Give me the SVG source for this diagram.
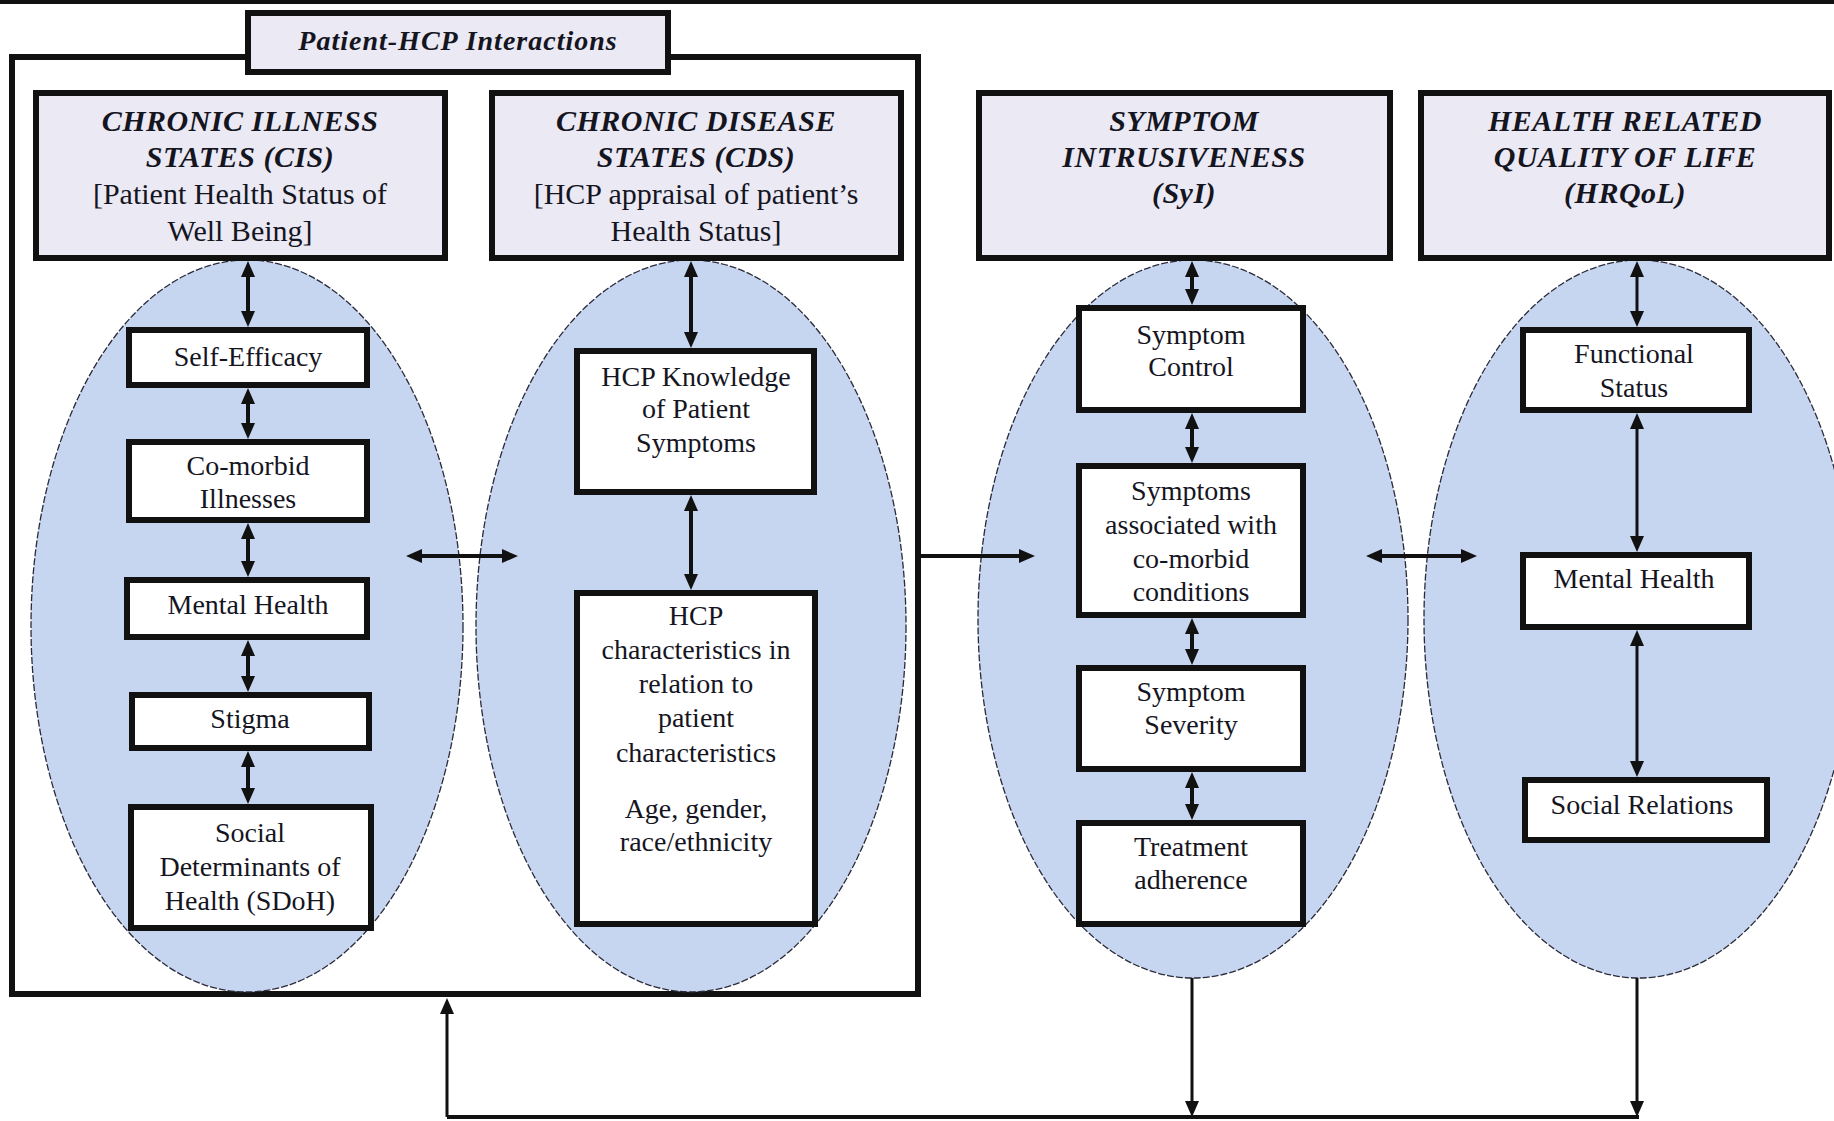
<svg xmlns="http://www.w3.org/2000/svg" width="1834" height="1121" viewBox="0 0 1834 1121">
<style>
text{font-family:"Liberation Serif","Times New Roman",serif;fill:#15151f;text-anchor:middle}
.hdr{font-size:30px;font-weight:bold;font-style:italic;letter-spacing:0.5px}
.hsub{font-size:30px}
.lbl{font-size:28px}
.ttl{font-size:28px;font-weight:bold;font-style:italic;letter-spacing:1px}
.hbox{fill:#eae9f4;stroke:#111;stroke-width:6}
.ibox{fill:#ffffff;stroke:#111;stroke-width:6}
.ell{fill:#c7d6f0;stroke:#2a2a3a;stroke-width:1.3;stroke-dasharray:7 2}
.c{fill:none;stroke:#111;stroke-width:4}
.c3{fill:none;stroke:#111;stroke-width:3}
</style>
<defs>
<marker id="ah" markerUnits="userSpaceOnUse" markerWidth="16" markerHeight="14" refX="11" refY="7" orient="auto-start-reverse">
<path d="M0,0 L16,7 L0,14 z" fill="#111"/>
</marker>
</defs>
<rect x="0" y="0" width="1834" height="1121" fill="#ffffff"/>
<rect x="0" y="0" width="1834" height="4" fill="#111"/>

<g id="outer-frame">
<rect x="12" y="57" width="906" height="937" fill="none" stroke="#111" stroke-width="6"/>
</g>

<g id="ellipses">
<ellipse id="ell-cis" class="ell" cx="247" cy="626" rx="216" ry="366"/>
<ellipse id="ell-cds" class="ell" cx="691" cy="626" rx="215" ry="366"/>
<ellipse id="ell-syi" class="ell" cx="1193" cy="619" rx="215" ry="359"/>
<ellipse id="ell-hrqol" class="ell" cx="1639" cy="619" rx="215" ry="359"/>
</g>

<g id="connectors">
<path class="c" d="M248,266 V322" marker-start="url(#ah)" marker-end="url(#ah)"/>
<path class="c" d="M248,393 V434" marker-start="url(#ah)" marker-end="url(#ah)"/>
<path class="c" d="M248,528 V572" marker-start="url(#ah)" marker-end="url(#ah)"/>
<path class="c" d="M248,645 V687" marker-start="url(#ah)" marker-end="url(#ah)"/>
<path class="c" d="M248,756 V799" marker-start="url(#ah)" marker-end="url(#ah)"/>
<path class="c" d="M691,266 V343" marker-start="url(#ah)" marker-end="url(#ah)"/>
<path class="c" d="M691,500 V585" marker-start="url(#ah)" marker-end="url(#ah)"/>
<path class="c" d="M1192,266 V300" marker-start="url(#ah)" marker-end="url(#ah)"/>
<path class="c" d="M1192,418 V458" marker-start="url(#ah)" marker-end="url(#ah)"/>
<path class="c" d="M1192,623 V660" marker-start="url(#ah)" marker-end="url(#ah)"/>
<path class="c" d="M1192,777 V815" marker-start="url(#ah)" marker-end="url(#ah)"/>
<path class="c3" d="M1637,266 V322" marker-start="url(#ah)" marker-end="url(#ah)"/>
<path class="c3" d="M1637,418 V547" marker-start="url(#ah)" marker-end="url(#ah)"/>
<path class="c3" d="M1637,635 V772" marker-start="url(#ah)" marker-end="url(#ah)"/>
<path class="c" d="M411,556 H513" marker-start="url(#ah)" marker-end="url(#ah)"/>
<path class="c" d="M921,556 H1030" marker-end="url(#ah)"/>
<path class="c" d="M1371,556 H1472" marker-start="url(#ah)" marker-end="url(#ah)"/>
<path class="c3" d="M1192,978 V1112" marker-end="url(#ah)"/>
<path class="c3" d="M1637,978 V1112" marker-end="url(#ah)"/>
<path class="c" d="M447,1117 H1639"/>
<path class="c3" d="M447,1117 V1003" marker-end="url(#ah)"/>
</g>

<g id="patient-hcp">
<rect class="hbox" x="248" y="13" width="420" height="59"/>
<text class="ttl" x="458" y="50">Patient-HCP Interactions</text>
</g>

<g id="cis">
<rect class="hbox" x="36" y="93" width="409" height="165"/>
<text class="hdr" x="240" y="131">CHRONIC ILLNESS</text>
<text class="hdr" x="240" y="167">STATES (CIS)</text>
<text class="hsub" x="240" y="204">[Patient Health Status of</text>
<text class="hsub" x="240" y="241">Well Being]</text>
</g>

<g id="cds">
<rect class="hbox" x="492" y="93" width="409" height="165"/>
<text class="hdr" x="696" y="131">CHRONIC DISEASE</text>
<text class="hdr" x="696" y="167">STATES (CDS)</text>
<text class="hsub" x="696" y="204">[HCP appraisal of patient’s</text>
<text class="hsub" x="696" y="241">Health Status]</text>
</g>

<g id="syi">
<rect class="hbox" x="979" y="93" width="411" height="165"/>
<text class="hdr" x="1184" y="131">SYMPTOM</text>
<text class="hdr" x="1184" y="167">INTRUSIVENESS</text>
<text class="hdr" x="1184" y="203">(SyI)</text>
</g>

<g id="hrqol">
<rect class="hbox" x="1421" y="93" width="408" height="165"/>
<text class="hdr" x="1625" y="131">HEALTH RELATED</text>
<text class="hdr" x="1625" y="167">QUALITY OF LIFE</text>
<text class="hdr" x="1625" y="203">(HRQoL)</text>
</g>

<g id="self-efficacy">
<rect class="ibox" x="129" y="330" width="238" height="55"/>
<text class="lbl" x="248" y="366">Self-Efficacy</text>
</g>
<g id="comorbid-illnesses">
<rect class="ibox" x="129" y="442" width="238" height="78"/>
<text class="lbl" x="248" y="475">Co-morbid</text>
<text class="lbl" x="248" y="508">Illnesses</text>
</g>
<g id="mental-health-cis">
<rect class="ibox" x="127" y="580" width="240" height="57"/>
<text class="lbl" x="248" y="614">Mental Health</text>
</g>
<g id="stigma">
<rect class="ibox" x="132" y="695" width="237" height="53"/>
<text class="lbl" x="250" y="728">Stigma</text>
</g>
<g id="sdoh">
<rect class="ibox" x="131" y="807" width="240" height="121"/>
<text class="lbl" x="250" y="842">Social</text>
<text class="lbl" x="250" y="876">Determinants of</text>
<text class="lbl" x="250" y="910">Health (SDoH)</text>
</g>

<g id="hcp-knowledge">
<rect class="ibox" x="577" y="351" width="237" height="141"/>
<text class="lbl" x="696" y="386">HCP Knowledge</text>
<text class="lbl" x="696" y="418">of Patient</text>
<text class="lbl" x="696" y="452">Symptoms</text>
</g>
<g id="hcp-characteristics">
<rect class="ibox" x="577" y="593" width="238" height="331"/>
<text class="lbl" x="696" y="625">HCP</text>
<text class="lbl" x="696" y="659">characteristics in</text>
<text class="lbl" x="696" y="693">relation to</text>
<text class="lbl" x="696" y="727">patient</text>
<text class="lbl" x="696" y="762">characteristics</text>
<text class="lbl" x="696" y="818">Age, gender,</text>
<text class="lbl" x="696" y="851">race/ethnicity</text>
</g>

<g id="symptom-control">
<rect class="ibox" x="1079" y="308" width="224" height="102"/>
<text class="lbl" x="1191" y="344">Symptom</text>
<text class="lbl" x="1191" y="376">Control</text>
</g>
<g id="symptoms-comorbid">
<rect class="ibox" x="1079" y="466" width="224" height="149"/>
<text class="lbl" x="1191" y="500">Symptoms</text>
<text class="lbl" x="1191" y="534">associated with</text>
<text class="lbl" x="1191" y="568">co-morbid</text>
<text class="lbl" x="1191" y="601">conditions</text>
</g>
<g id="symptom-severity">
<rect class="ibox" x="1079" y="668" width="224" height="101"/>
<text class="lbl" x="1191" y="701">Symptom</text>
<text class="lbl" x="1191" y="734">Severity</text>
</g>
<g id="treatment-adherence">
<rect class="ibox" x="1079" y="823" width="224" height="101"/>
<text class="lbl" x="1191" y="856">Treatment</text>
<text class="lbl" x="1191" y="889">adherence</text>
</g>

<g id="functional-status">
<rect class="ibox" x="1523" y="330" width="226" height="80"/>
<text class="lbl" x="1634" y="363">Functional</text>
<text class="lbl" x="1634" y="397">Status</text>
</g>
<g id="mental-health-hrqol">
<rect class="ibox" x="1523" y="555" width="226" height="72"/>
<text class="lbl" x="1634" y="588">Mental Health</text>
</g>
<g id="social-relations">
<rect class="ibox" x="1525" y="780" width="242" height="60"/>
<text class="lbl" x="1642" y="814">Social Relations</text>
</g>
</svg>
